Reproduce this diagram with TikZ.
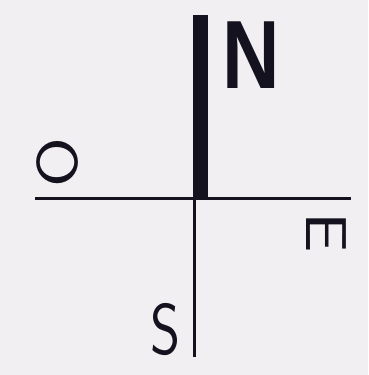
\documentclass[tikz,border=0pt]{standalone}
\usepackage{fontspec}
\usepackage{tikz}
\newfontfamily\headfont{Liberation Sans}
\definecolor{paper}{HTML}{F1EFF2}
\definecolor{ink}{HTML}{14121E}

\begin{document}
\begin{tikzpicture}[x=1pt, y=-1pt,
  letter/.style={text=ink, inner sep=0pt, font=\sffamily\fontsize{72}{72}\selectfont, xscale=0.8},
  north/.style={text=ink, inner sep=0pt, font=\headfont\bfseries\fontsize{97}{97}\selectfont, xscale=0.82},
  axis/.style={draw=ink, line width=3pt}
]
\fill[paper] (0,0) rectangle (368,375);
\useasboundingbox (0,0) rectangle (368,375);

\coordinate (top) at (200.5,15);
\coordinate (centre) at (200.5,198);
\coordinate (west) at (35,198);
\coordinate (east) at (351,198);
\coordinate (mid) at (194.5,198);
\coordinate (south) at (194.5,357);

\draw[axis] (west) -- (east);
\draw[draw=ink, line width=15pt] (top) -- (centre);
\draw[axis] (mid) -- (south);

\node[north] (n) at (251,55) {N};
\node[letter, rotate=90] (o) at (58,163) {O};
\node[letter, rotate=-90] (e) at (326,233) {E};
\node[letter] (s) at (166,330) {S};
\end{tikzpicture}
\end{document}
